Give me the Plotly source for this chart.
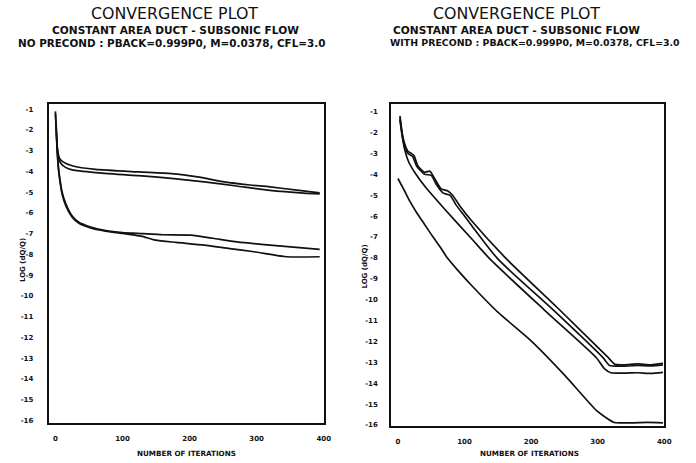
import plotly.graph_objects as go

# ---------------- data ----------------
# Left panel: no preconditioning
left_it_1 = [1, 3, 6, 12, 25, 60, 124, 173, 212, 252, 290, 320, 360, 394]
left_val_1 = [-1.6, -2.9, -3.35, -3.55, -3.72, -3.9, -4.02, -4.1, -4.26, -4.5, -4.65, -4.74, -4.9, -5.03]
left_it_2 = [2, 4, 8, 15, 25, 60, 124, 173, 222, 270, 320, 370, 394]
left_val_2 = [-2.4, -3.3, -3.6, -3.8, -3.92, -4.05, -4.2, -4.33, -4.5, -4.7, -4.91, -5.04, -5.08]
left_it_3 = [0, 2, 4, 6, 10, 16, 25, 35, 50, 75, 100, 130, 160, 202, 235, 271, 320, 394]
left_val_3 = [-1.1, -2.5, -3.6, -4.2, -5.0, -5.6, -6.15, -6.45, -6.65, -6.85, -6.95, -7.0, -7.05, -7.07, -7.22, -7.39, -7.55, -7.76]
left_it_4 = [0, 2, 4, 6, 10, 16, 25, 35, 50, 75, 100, 128, 149, 180, 222, 260, 296, 345, 394]
left_val_4 = [-1.2, -2.6, -3.7, -4.3, -5.1, -5.7, -6.2, -6.5, -6.7, -6.88, -6.98, -7.12, -7.31, -7.42, -7.55, -7.72, -7.87, -8.11, -8.11]

# Right panel: with preconditioning
right_it_a = [3, 8, 15, 20, 24, 30, 40, 48, 55, 65, 75, 82, 95, 110, 163, 240, 316, 326, 340, 360, 380, 398]
right_val_a = [-1.2, -2.3, -2.9, -3.0, -3.1, -3.6, -3.9, -3.85, -4.2, -4.7, -4.8, -5.0, -5.6, -6.2, -8.05, -10.4, -12.78, -13.1, -13.12, -13.08, -13.12, -13.05]
right_it_b = [3, 8, 15, 22, 28, 40, 50, 58, 68, 78, 88, 100, 150, 230, 308, 318, 340, 360, 380, 398]
right_val_b = [-1.3, -2.4, -3.0, -3.15, -3.6, -4.0, -4.05, -4.5, -4.9, -5.0, -5.5, -6.0, -8.05, -10.4, -12.78, -13.15, -13.18, -13.15, -13.17, -13.12]
right_it_c = [3, 6, 10, 16, 25, 41, 71, 111, 138, 220, 298, 310, 320, 340, 360, 380, 398]
right_val_c = [-1.4, -2.1, -2.8, -3.4, -3.9, -4.6, -5.7, -7.1, -8.05, -10.5, -12.78, -13.3, -13.5, -13.52, -13.5, -13.53, -13.48]
right_it_d = [0, 5, 10, 18, 27, 40, 52, 64, 74, 90, 110, 150, 200, 250, 298, 315, 325, 350, 375, 398]
right_val_d = [-4.2, -4.5, -4.8, -5.3, -5.78, -6.4, -6.97, -7.5, -8.0, -8.6, -9.3, -10.6, -11.97, -13.6, -15.3, -15.7, -15.88, -15.9, -15.88, -15.9]

x_ticks = [0, 100, 200, 300, 400]
y_ticks = [-1, -2, -3, -4, -5, -6, -7, -8, -9, -10, -11, -12, -13, -14, -15, -16]

title_main = "CONVERGENCE PLOT"
title_sub = "CONSTANT AREA DUCT - SUBSONIC FLOW"
title_left = "NO PRECOND : PBACK=0.999P0, M=0.0378, CFL=3.0"
title_right = "WITH PRECOND : PBACK=0.999P0, M=0.0378, CFL=3.0"
x_title = "NUMBER OF ITERATIONS"
y_title = "LOG (dQ/Q)"

W, H = 696, 463
FONT = "DejaVu Sans"
INK = "#111111"

fig = go.Figure()

def add(xs, ys, xa, ya):
    fig.add_trace(go.Scatter(x=xs, y=ys, mode="lines", xaxis=xa, yaxis=ya,
                             line=dict(color=INK, width=1.7, shape="spline", smoothing=0.6),
                             showlegend=False, hoverinfo="skip"))

add(left_it_1, left_val_1, "x", "y")
add(left_it_2, left_val_2, "x", "y")
add(left_it_3, left_val_3, "x", "y")
add(left_it_4, left_val_4, "x", "y")
add(right_it_a, right_val_a, "x2", "y2")
add(right_it_b, right_val_b, "x2", "y2")
add(right_it_c, right_val_c, "x2", "y2")
add(right_it_d, right_val_d, "x2", "y2")

def px_x(v):
    return v / W

def px_y(v):
    return 1 - v / H

axis_common = dict(showgrid=False, zeroline=False, showline=True, mirror=True,
                   linecolor=INK, linewidth=1.5, ticks="",
                   tickfont=dict(family=FONT, size=7, color=INK))

fig.update_layout(
    width=W, height=H, margin=dict(l=0, r=0, t=0, b=0),
    paper_bgcolor="white", plot_bgcolor="white",
    xaxis=dict(domain=[px_x(49), px_x(327)], range=[-10.3, 400], anchor="y",
               tickvals=x_ticks, ticktext=[f"<b>{t}</b>" for t in x_ticks],
               ticklabelstandoff=8, **axis_common),
    yaxis=dict(domain=[px_y(426), px_y(105)], range=[-16.14, -0.76], anchor="x",
               tickvals=y_ticks, ticktext=[f"<b>{t}</b>" for t in y_ticks],
               ticklabelstandoff=12, **axis_common),
    xaxis2=dict(domain=[px_x(395), px_x(671)], range=[-10.4, 400], anchor="y2",
                tickvals=x_ticks, ticktext=[f"<b>{t}</b>" for t in x_ticks],
                ticklabelstandoff=8, **axis_common),
    yaxis2=dict(domain=[px_y(429), px_y(105)], range=[-16.06, -0.65], anchor="x2",
                tickvals=y_ticks, ticktext=[f"<b>{t}</b>" for t in y_ticks],
                ticklabelstandoff=10, **axis_common),
)

def text(x, y, s, size, bold=False, angle=0):
    fig.add_annotation(x=px_x(x), y=px_y(y), xref="paper", yref="paper",
                       text=f"<b>{s}</b>" if bold else s, showarrow=False,
                       textangle=angle, xanchor="center", yanchor="middle",
                       font=dict(family=FONT, size=size, color=INK))

text(176, 14, title_main, 15.8)
text(177, 30, title_sub, 10.6, bold=True)
text(173, 43, title_left, 10.4, bold=True)
text(522, 14, title_main, 15.8)
text(522, 30, title_sub, 10.6, bold=True)
text(540, 43, title_right, 9.4, bold=True)

text(188, 456, x_title, 7.2, bold=True)
text(535, 456, x_title, 7.2, bold=True)
text(24, 262, y_title, 7, bold=True, angle=-90)
text(369, 268, y_title, 7, bold=True, angle=-90)

fig.write_html("out.html", config={"displayModeBar": False},
               post_script="document.body.style.margin='0';document.body.style.overflow='hidden';")
